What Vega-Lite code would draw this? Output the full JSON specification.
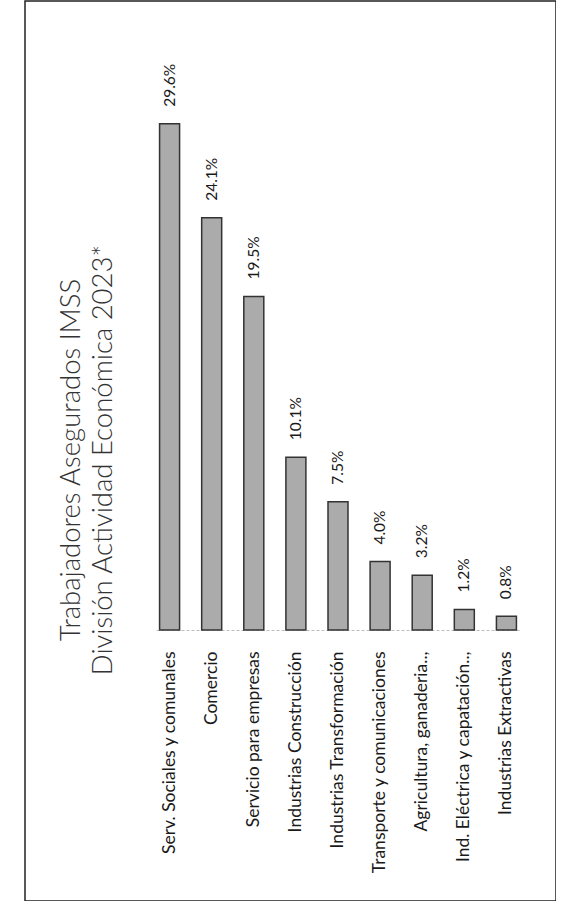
{
  "$schema": "https://vega.github.io/schema/vega-lite/v6.json",
  "width": 531,
  "height": 900,
  "autosize": {"type": "none"},
  "padding": {"left": 25, "top": 1, "right": 0, "bottom": 0},
  "background": "white",
  "title": {
    "text": ["Trabajadores Asegurados IMSS", "División Actividad Económica 2023*"],
    "orient": "left",
    "anchor": "middle",
    "frame": "group",
    "font": "Lato",
    "fontSize": 27.5,
    "fontWeight": 300,
    "color": "#333333",
    "lineHeight": 32,
    "baseline": "bottom",
    "offset": -120,
    "dx": -9
  },
  "data": {
    "values": [
      {"cat": "Serv. Sociales y comunales", "share": 0.296},
      {"cat": "Comercio", "share": 0.241},
      {"cat": "Servicio para empresas", "share": 0.195},
      {"cat": "Industrias Construcción", "share": 0.101},
      {"cat": "Industrias Transformación", "share": 0.075},
      {"cat": "Transporte y comunicaciones", "share": 0.04},
      {"cat": "Agricultura, ganaderia..,", "share": 0.032},
      {"cat": "Ind. Eléctrica y capatación..,", "share": 0.012},
      {"cat": "Industrias Extractivas", "share": 0.008}
    ]
  },
  "encoding": {
    "x": {
      "field": "cat",
      "type": "nominal",
      "sort": null,
      "title": null,
      "scale": {"range": [131, 495], "paddingInner": 0.525, "paddingOuter": 0.085},
      "axis": {
        "orient": "bottom",
        "offset": -271,
        "ticks": false,
        "tickSize": 0,
        "domainColor": "#bdbdbd",
        "domainDash": [3, 2],
        "domainWidth": 1,
        "labelAngle": 270,
        "labelAlign": "right",
        "labelBaseline": "middle",
        "labelFont": "Lato",
        "labelFontSize": 17.5,
        "labelColor": "#1a1a1a",
        "labelPadding": 21,
        "labelLimit": 0
      }
    },
    "y": {
      "field": "share",
      "type": "quantitative",
      "scale": {"domain": [-0.1585, 0.3678], "nice": false, "zero": false},
      "axis": null
    }
  },
  "layer": [
    {
      "mark": {"type": "bar", "fill": "#ababab", "stroke": "#333333", "strokeWidth": 1.5},
      "encoding": {"y2": {"datum": 0}}
    },
    {
      "mark": {"type": "text", "angle": 270, "align": "left", "baseline": "middle", "dx": 17, "font": "Lato", "fontSize": 15.5, "color": "#1a1a1a"},
      "encoding": {"text": {"field": "share", "type": "quantitative", "format": ".1%"}}
    }
  ],
  "config": {"view": {"stroke": "#222222", "strokeWidth": 1.5}}
}
